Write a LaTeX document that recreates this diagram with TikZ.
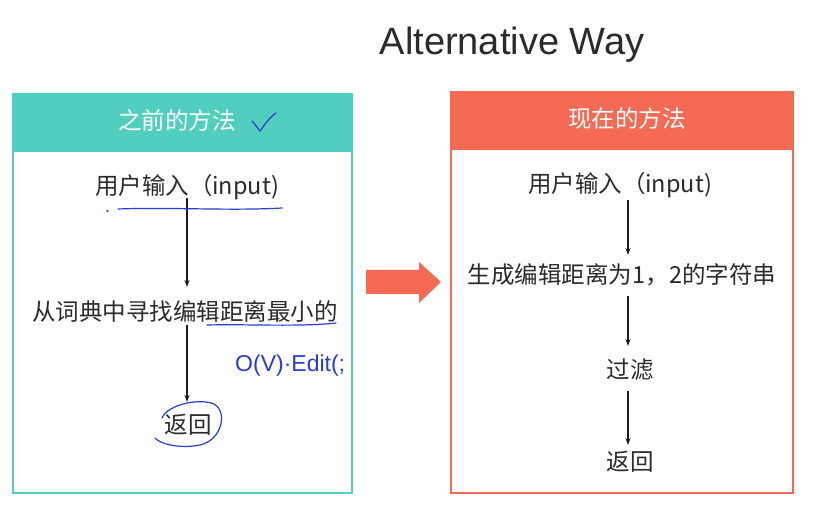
\documentclass[tikz,border=0pt]{standalone}
\usepackage{fontspec}
\setmainfont{Liberation Sans}
\newfontfamily\cjk{Noto Sans CJK SC}
\usetikzlibrary{arrows.meta}
\definecolor{teal1}{HTML}{52CEBE}
\definecolor{coral1}{HTML}{F46A54}
\definecolor{ink}{HTML}{2B2B2B}
\definecolor{pen}{HTML}{2A3BD6}
\definecolor{arrowink}{HTML}{1C1C2A}
\tikzset{
  label/.style={font=\cjk\fontsize{23.5}{27}\selectfont, text=ink, inner sep=1pt},
  head/.style={font=\cjk\fontsize{23.5}{27}\selectfont, text=white, inner sep=1pt},
  flow/.style={draw=arrowink, line width=1.5pt, -{Stealth[length=7pt,width=5pt]}},
  frame/.style={line width=2.5pt},
  ink pen/.style={draw=pen, line width=1.2pt, line cap=round, line join=round},
}
\begin{document}
\begin{tikzpicture}[x=1pt,y=-1pt]
\useasboundingbox (0,0) rectangle (820,513);
\fill[white] (0,0) rectangle (820,513);

% title
\node[font=\fontsize{38}{44}\selectfont, text=ink] (title) at (512,45) {Alternative Way};

% left panel
\fill[teal1] (13,94) rectangle (352,152);
\draw[frame, draw=teal1] (13,94) rectangle (352,493);
\node[head] (lhead) at (177,121) {之前的方法};
\node[label] (l1) at (187,187) {用户输入（input)};
\node[label] (l2) at (185,311) {从词典中寻找编辑距离最小的};
\node[label] (l3) at (188,425) {返回};
\coordinate (l1b) at (187,198);
\coordinate (l2t) at (187,287);
\coordinate (l2b) at (187,325);
\coordinate (l3t) at (187,402);
\draw[flow] (l1b) -- (l2t);
\draw[flow] (l2b) -- (l3t);

% right panel
\fill[coral1] (451,92) rectangle (793,150);
\draw[frame, draw=coral1] (451,92) rectangle (793,493);
\node[head] (rhead) at (627,119) {现在的方法};
\node[label] (r1) at (620,185) {用户输入（input)};
\node[label] (r2) at (622,275) {生成编辑距离为1，2的字符串};
\node[label] (r3) at (630,370) {过滤};
\node[label] (r4) at (630,462) {返回};
\draw[flow] (628,200) -- (628,255);
\draw[flow] (628,296) -- (628,346);
\draw[flow] (628,391) -- (628,445);

% transition arrow
\fill[coral1] (366,270) -- (419,270) -- (419,262) -- (441,282) -- (419,303) -- (419,294) -- (366,294) -- cycle;

% pen annotations
\draw[ink pen] (252,121) .. controls (255,124) and (258,129) .. (260,131) .. controls (265,124) and (270,117) .. (276,113);
\draw[ink pen] (107,211) -- (108,211);
\draw[ink pen] (118,209) .. controls (170,207) and (230,211) .. (282,208);
\draw[ink pen] (207,325) .. controls (250,324) and (300,327) .. (336,323);
\draw[ink pen] (162,418) .. controls (168,404) and (200,398) .. (214,404) .. controls (228,412) and (222,440) .. (200,445)
  .. controls (180,449) and (160,444) .. (155,438);
\node[font=\fontsize{23}{26}\selectfont, text=pen, anchor=west, inner sep=0pt] (cost) at (235,366) {O(V)·Edit(;};
\end{tikzpicture}
\end{document}
